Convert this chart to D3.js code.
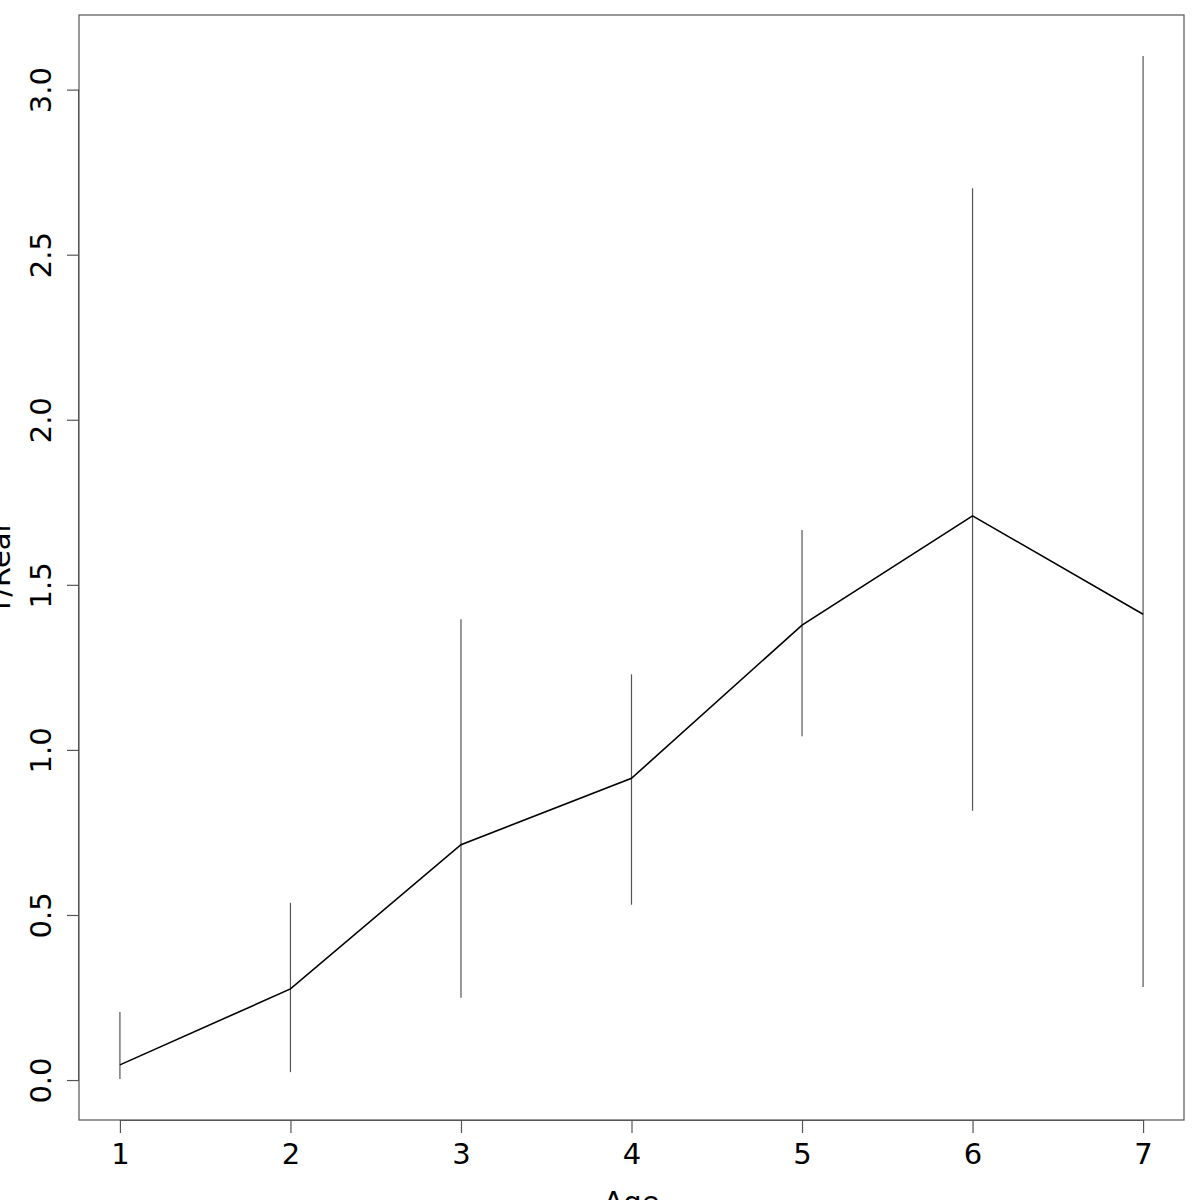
<!DOCTYPE html>
<html>
<head>
<meta charset="utf-8">
<script src="https://cdn.jsdelivr.net/npm/d3@7"></script>
<style>
html,body{margin:0;padding:0;background:#fff;}
svg{display:block;}
text{font-family:"DejaVu Sans",sans-serif;}
</style>
</head>
<body>
<svg id="chart" width="1200" height="1200"></svg>
<script>
const ages = [1, 2, 3, 4, 5, 6, 7];
const means = [0.046, 0.276, 0.713, 0.914, 1.378, 1.709, 1.411];
const upper = [0.206, 0.537, 1.396, 1.229, 1.666, 2.701, 3.102];
const lower = [0.003, 0.024, 0.249, 0.531, 1.041, 0.816, 0.282];
const xTicks = [1, 2, 3, 4, 5, 6, 7];
const yTicks = [0, 0.5, 1.0, 1.5, 2.0, 2.5, 3.0];
const xLabel = "Age";
const yLabel = "Y/Rear";

const svg = d3.select("#chart");
const L = 79, R = 1184, T = 15, B = 1120;
const FS = 29;

const x = d3.scaleLinear().domain([0.76, 7.24]).range([L, R]);
const yMin = -0.121, yMax = 3.226;
const y = d3.scaleLinear().domain([yMin, yMax]).range([B, T]);

// error bars
svg.append("g").selectAll("line").data(ages).join("line")
  .attr("x1", (d) => x(d)).attr("x2", (d) => x(d))
  .attr("y1", (d, i) => y(lower[i])).attr("y2", (d, i) => y(upper[i]))
  .attr("stroke", "#555").attr("stroke-width", 1.2);

// mean line
svg.append("path")
  .datum(ages.map((a, i) => [a, means[i]]))
  .attr("d", d3.line().x(d => x(d[0])).y(d => y(d[1])))
  .attr("fill", "none").attr("stroke", "#000").attr("stroke-width", 1.6);

// box
svg.append("rect").attr("x", L).attr("y", T).attr("width", R - L).attr("height", B - T)
  .attr("fill", "none").attr("stroke", "#555").attr("stroke-width", 1.2);

// x axis
const xAxis = d3.axisBottom(x).tickValues(xTicks).tickFormat(d3.format("d")).tickSize(13).tickPadding(10);
const gx = svg.append("g").attr("transform", `translate(0,${B})`).call(xAxis);
gx.select(".domain").attr("d", `M${x(1)},0.5H${x(7)}`).attr("stroke", "#555");
gx.selectAll(".tick line").attr("stroke", "#555").attr("stroke-width", 1.2);
gx.selectAll("text").attr("font-size", FS).attr("fill", "#000").attr("font-family", "DejaVu Sans");

// y axis
const yAxis = d3.axisLeft(y).tickValues(yTicks).tickFormat(d3.format(".1f")).tickSize(12).tickPadding(0);
const gy = svg.append("g").attr("transform", `translate(${L},0)`).call(yAxis);
gy.select(".domain").attr("d", `M-0.5,${y(0)}V${y(3)}`).attr("stroke", "#555");
gy.selectAll(".tick line").attr("stroke", "#555").attr("stroke-width", 1.2);
gy.selectAll(".tick text")
  .attr("font-size", FS).attr("fill", "#000").attr("font-family", "DejaVu Sans")
  .attr("x", null).attr("dy", null)
  .attr("text-anchor", "middle")
  .attr("transform", "translate(-28,0) rotate(-90)")
  .attr("y", 0);

// axis labels
svg.append("text").attr("x", (L + R) / 2).attr("y", 1212)
  .attr("text-anchor", "middle").attr("font-size", FS).text(xLabel);
svg.append("text").attr("transform", `translate(10,${(T + B) / 2}) rotate(-90)`)
  .attr("text-anchor", "middle").attr("font-size", FS).text(yLabel);
</script>
</body>
</html>
